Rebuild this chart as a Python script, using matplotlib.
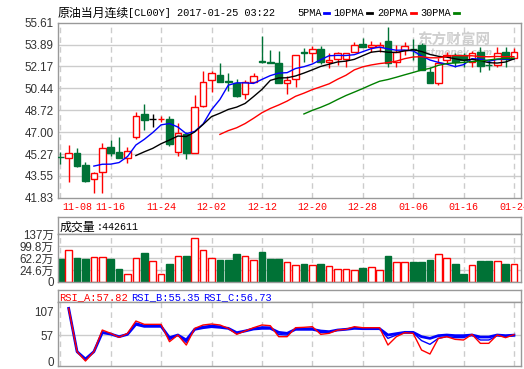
import numpy as np
import pandas as pd
import matplotlib
matplotlib.use('Agg')
import matplotlib.pyplot as plt
from matplotlib.patches import Rectangle
from matplotlib.lines import Line2D

# CL00Y daily bars, 2016-11-08 .. 2017-01-24
dates = ['11-08', '11-09', '11-10', '11-11', '11-14', '11-15',
         '11-16', '11-17', '11-18', '11-21', '11-22', '11-23',
         '11-24', '11-25', '11-28', '11-29', '11-30', '12-01',
         '12-02', '12-05', '12-06', '12-07', '12-08', '12-09',
         '12-12', '12-13', '12-14', '12-15', '12-16', '12-19',
         '12-20', '12-21', '12-22', '12-23', '12-26', '12-27',
         '12-28', '12-29', '12-30', '01-03', '01-04', '01-05',
         '01-06', '01-09', '01-10', '01-11', '01-12', '01-13',
         '01-16', '01-17', '01-18', '01-19', '01-20', '01-23',
         '01-24']
opens = [45.03, 44.93, 45.33, 44.41, 43.28, 43.83, 45.80, 45.41, 44.98, 46.63,
         48.40, 48.03, 47.99, 48.03, 45.45, 46.85, 45.33, 49.07, 51.07, 51.49,
         50.99, 50.89, 49.99, 50.96, 52.57, 52.49, 52.41, 50.84, 51.15, 53.28,
         53.20, 53.52, 52.54, 52.73, 52.73, 53.33, 53.93, 53.72, 53.72, 54.17,
         52.54, 53.46, 53.55, 53.85, 51.75, 50.84, 52.67, 53.07, 53.07, 52.54,
         53.28, 52.31, 52.28, 53.28, 52.85]
highs = [45.40, 45.98, 45.74, 44.62, 43.88, 46.11, 46.37, 46.59, 45.80, 48.56,
         49.21, 48.40, 48.29, 48.26, 47.69, 47.03, 49.92, 51.81, 51.81, 52.46,
         51.67, 51.15, 51.10, 51.67, 54.56, 53.46, 53.41, 51.41, 53.07, 53.59,
         53.78, 53.78, 53.20, 53.33, 53.25, 54.11, 54.38, 54.19, 54.11, 55.30,
         53.85, 54.11, 54.30, 53.99, 52.15, 52.80, 53.33, 53.20, 53.20, 53.41,
         53.67, 52.67, 53.72, 53.72, 53.59]
lows = [44.46, 43.09, 44.28, 43.09, 42.22, 42.22, 45.11, 44.93, 44.59, 46.45,
        47.16, 47.42, 47.77, 45.92, 45.14, 44.85, 45.33, 48.99, 50.18, 50.96,
        50.23, 49.78, 49.60, 50.92, 52.41, 52.41, 50.84, 49.99, 50.52, 52.54,
        52.54, 52.33, 52.07, 52.28, 52.15, 53.33, 53.72, 53.33, 53.33, 52.15,
        52.15, 53.07, 52.67, 51.89, 50.84, 50.70, 52.41, 52.15, 52.15, 52.15,
        51.75, 51.89, 52.15, 52.15, 52.85]
closes = [45.00, 45.33, 44.35, 43.17, 43.75, 45.72, 45.37, 44.98, 45.53, 48.29,
          47.95, 48.03, 48.03, 46.06, 46.90, 45.33, 48.95, 50.92, 51.67, 50.96,
          50.96, 49.86, 50.92, 51.44, 52.54, 52.46, 50.84, 51.10, 53.07, 53.25,
          53.52, 52.54, 52.67, 53.20, 53.20, 53.85, 53.72, 53.85, 53.85, 52.46,
          53.33, 53.78, 53.52, 51.89, 50.84, 52.41, 53.07, 52.54, 52.67, 53.20,
          52.22, 52.28, 53.20, 52.73, 53.28]
# volume in 万 (10k)
volume = [60.0, 89.0, 64.2, 60.0, 65.5, 65.5, 60.0, 27.8, 10.7, 62.3,
          78.4, 53.6, 10.7, 43.9, 69.7, 69.7, 124.5, 89.0, 62.3, 56.8,
          56.8, 76.2, 69.7, 56.8, 80.4, 60.0, 60.0, 49.4, 40.7, 43.9,
          40.7, 43.9, 37.5, 27.8, 27.8, 24.6, 32.0, 34.3, 24.6, 69.7,
          49.4, 49.4, 50.5, 50.5, 56.8, 75.2, 62.3, 43.9, 11.7, 39.7,
          53.6, 53.6, 53.6, 43.9, 44.26]
nan = np.nan
rsi_a = [nan, 114.2, 21.2, 1.2, 21.2, 67.7, 60.6, 52.0, 60.6, 87.0,
         79.9, 79.9, 79.9, 42.7, 57.0, 35.5, 71.3, 78.5, 80.6, 78.5,
         71.3, 58.4, 65.6, 72.7, 78.5, 77.0, 53.4, 53.4, 72.7, 73.5,
         74.9, 58.4, 60.6, 67.7, 69.2, 74.9, 72.7, 72.7, 72.7, 35.5,
         53.4, 62.0, 60.6, 24.8, 16.2, 49.8, 53.4, 47.7, 46.3, 58.4,
         39.1, 39.1, 57.0, 51.3, 57.82]
rsi_b = [nan, 114.2, 21.2, 3.5, 21.2, 64.0, 60.0, 53.0, 59.5, 83.0,
         77.5, 77.5, 77.5, 47.0, 57.0, 41.0, 70.5, 75.5, 77.5, 76.0,
         71.3, 60.0, 65.6, 71.3, 74.5, 74.0, 58.0, 57.0, 71.0, 71.3,
         72.0, 62.0, 62.5, 67.7, 69.2, 73.0, 71.5, 71.5, 71.5, 49.8,
         57.0, 62.0, 62.0, 45.0, 37.0, 49.8, 53.4, 51.3, 51.3, 57.0,
         46.3, 46.3, 55.6, 53.4, 55.35]
rsi_c = [nan, 114.2, 21.2, 5.5, 21.2, 62.0, 59.1, 53.4, 58.4, 79.9,
         75.6, 75.6, 75.6, 51.3, 57.0, 46.3, 69.2, 72.7, 74.9, 73.5,
         71.3, 62.0, 65.6, 69.9, 71.3, 71.3, 62.7, 60.6, 69.2, 69.2,
         69.2, 65.6, 64.2, 67.7, 69.2, 71.3, 70.6, 70.6, 70.6, 57.0,
         59.9, 62.7, 62.7, 53.4, 49.8, 55.6, 57.0, 55.6, 55.6, 57.0,
         52.7, 52.7, 57.0, 55.6, 56.73]
price_ticks = [41.83, 43.55, 45.27, 47.00, 48.72, 50.44, 52.17, 53.89, 55.61]
vol_ticks = [-13.0, 24.6, 62.2, 99.8, 137.4]
vol_labels = ['0', '24.6万', '62.2万', '99.8万', '137万']
rsi_ticks = [0, 57, 107]

RED = '#ff0000'
GREEN = '#007236'
GRID = '#cccccc'
FRAME = '#999999'
CJK = ['Noto Sans CJK SC', 'DejaVu Sans']
MONO = ['Liberation Mono', 'Noto Sans CJK SC']
SANS = ['Liberation Sans', 'Noto Sans CJK SC']

W, H = 524, 369
fig = plt.figure(figsize=(W / 100, H / 100), dpi=100)


def box(x0, y0, x1, y1):
    a = fig.add_axes([x0 / W, 1 - y1 / H, (x1 - x0) / W, (y1 - y0) / H])
    for s in a.spines.values():
        s.set_color(FRAME)
        s.set_linewidth(1.0)
    a.tick_params(length=0, pad=3, labelsize=8.4, colors='#333333')
    return a


x = np.arange(len(closes))
XL = (-0.27, 54.8)
ticks6 = x[::6]

# ---- price panel
ax = box(58, 22.7, 520.7, 197.7)
ax.set_xlim(*XL)
ax.set_ylim(price_ticks[0], price_ticks[-1])
ax.set_xticks([])
ax.set_yticks(price_ticks)
ax.set_yticklabels(['%.2f' % t for t in price_ticks], family=SANS)
for t in price_ticks[1:-1]:
    ax.axhline(t, color=GRID, lw=1, zorder=0)
for i in ticks6:
    ax.axvline(i, color=GRID, lw=1, ls=(0, (4, 3)), zorder=0)

ax.text(0.855, 0.90, '东方财富网', transform=ax.transAxes, family=CJK,
        fontsize=10.5, fontweight='bold', color='#cfcfcf', ha='center', va='center', zorder=1)
ax.text(0.855, 0.83, 'eastmoney.com', transform=ax.transAxes, fontsize=6.5,
        fontweight='bold', style='italic', color='#cfcfcf', ha='center', va='center', zorder=1)

for i in x:
    o, h, l, c = opens[i], highs[i], lows[i], closes[i]
    if c > o:
        col, face = RED, 'white'
    elif c < o:
        col, face = GREEN, GREEN
    else:
        col, face = 'black', 'black'
    ax.vlines(i, l, h, color=col, lw=1, zorder=2)
    ax.add_patch(Rectangle((i - 0.4, min(o, c)), 0.8, max(abs(c - o), 0.01),
                           facecolor=face, edgecolor=col, lw=1, zorder=3))

cs = pd.Series(closes)
for n, col in [(5, '#0000ff'), (10, 'black'), (20, RED), (30, '#008000')]:
    ax.plot(x, cs.rolling(n).mean(), color=col, lw=1, zorder=4)

for i in ticks6:
    xi, ha = (0.3, 'left') if i == 0 else (i, 'center')
    ax.text(xi, -0.052, dates[i], transform=ax.get_xaxis_transform(), ha=ha, va='center',
            family=MONO, fontsize=7.2, color=RED, clip_on=False)

# title + legend
fig.text(58 / W, 1 - 13 / H, '原油当月连续', family=CJK, fontsize=8.6, va='center')
fig.text(128.3 / W, 1 - 13 / H, '[CL00Y] 2017-01-25 03:22', family=MONO, fontsize=7.4, va='center')
for lab, x0, col in [('5PMA', 297, '#0000ff'), ('10PMA', 333.7, 'black'),
                     ('20PMA', 377, RED), ('30PMA', 420, '#008000')]:
    fig.text(x0 / W, 1 - 13 / H, lab, family=MONO, fontsize=7.4, va='center')
    x1 = x0 + len(lab) * 6.2 + 2.5
    fig.add_artist(Line2D([x1 / W, (x1 + 5) / W], [1 - 13.3 / H] * 2, color=col, lw=2))

# ---- volume panel
axvh = box(58, 217.3, 520.7, 234.3)
axvh.set_xticks([])
axvh.set_yticks([])
axvh.text(2 / 462.7, 0.45, '成交量', transform=axvh.transAxes, family=CJK, fontsize=8.6, va='center')
axvh.text(38.7 / 462.7, 0.45, ':442611', transform=axvh.transAxes, family=MONO, fontsize=7.2, va='center')

axv = box(58, 234.3, 520.7, 282)
axv.set_xlim(*XL)
axv.set_ylim(vol_ticks[0], vol_ticks[-1])
axv.set_xticks([])
axv.set_yticks(vol_ticks)
axv.set_yticklabels(vol_labels, family=SANS)
for t in vol_ticks[1:-1]:
    axv.axhline(t, color=GRID, lw=1, zorder=0)
for i in ticks6:
    axv.axvline(i, color=GRID, lw=1, ls=(0, (4, 3)), zorder=0)
for i in x:
    up = closes[i] >= opens[i]
    axv.bar(i, volume[i] - vol_ticks[0], bottom=vol_ticks[0], width=0.8,
            facecolor='white' if up else GREEN, edgecolor=RED if up else GREEN, lw=1, zorder=2)

# ---- RSI panel
axrh = box(58, 290, 520.7, 302.3)
axrh.set_xticks([])
axrh.set_yticks([])
for lab, x0, col in [('RSI_A:57.82', 1.3, RED), ('RSI_B:55.35', 73, '#0000ff'),
                     ('RSI_C:56.73', 145.3, '#0000ff')]:
    axrh.text(x0 / 462.7, 0.45, lab, transform=axrh.transAxes, family=MONO,
              fontsize=7.5, color=col, va='center')

axr = box(58, 302.3, 520.7, 366)
axr.set_xlim(*XL)
axr.set_ylim(-9.5, 127.2)
axr.set_xticks([])
axr.set_yticks(rsi_ticks)
axr.set_yticklabels([str(t) for t in rsi_ticks], family=SANS)
axr.axhline(57, color=GRID, lw=1, zorder=0)
for i in ticks6:
    axr.axvline(i, color=GRID, lw=1, ls=(0, (4, 3)), zorder=0)
axr.plot(x, rsi_c, color='#0000ff', lw=2, zorder=2)
axr.plot(x, rsi_b, color='#0000ff', lw=1, zorder=3)
axr.plot(x, rsi_a, color=RED, lw=1, zorder=4)

fig.savefig('out.png', dpi=100)
